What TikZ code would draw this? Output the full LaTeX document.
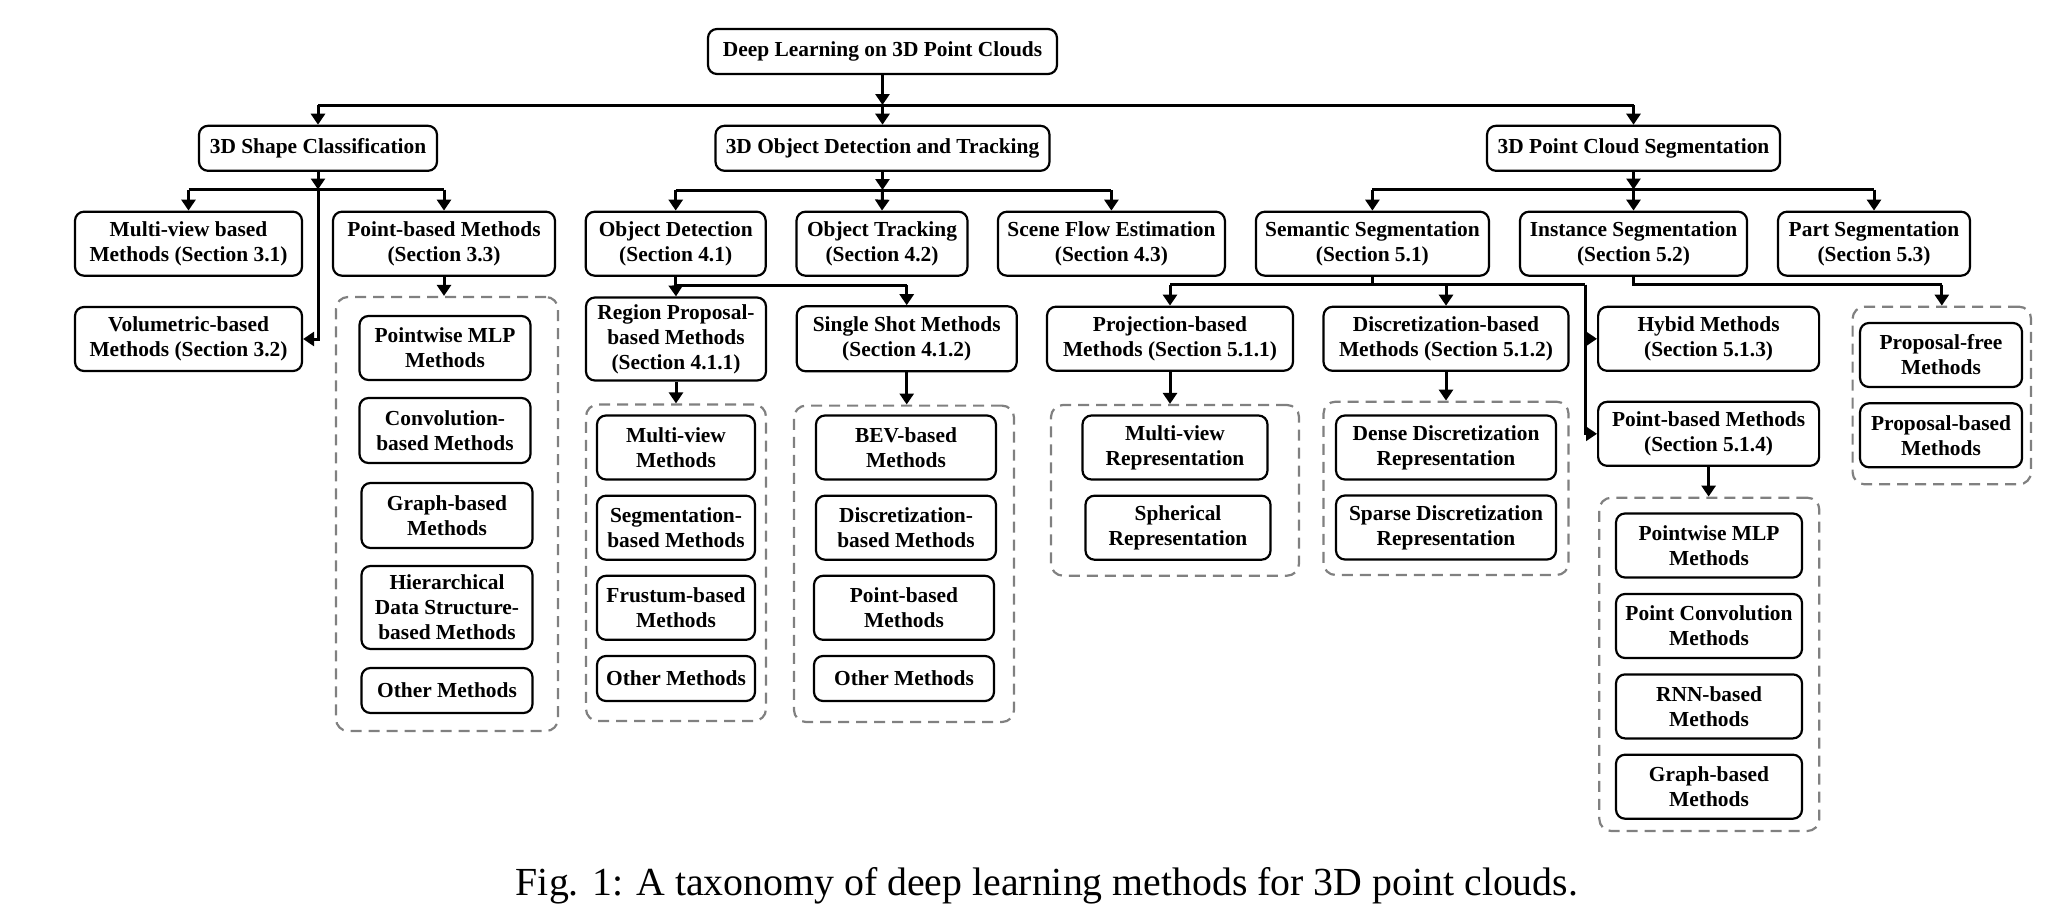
\documentclass[tikz,border=0pt]{standalone}
\usepackage{fontspec}
\setmainfont{Liberation Serif}
\usetikzlibrary{arrows.meta}
\newcommand\tbox[6]{\node[box, minimum width={#4*0.5pt}, minimum height={#5*0.5pt}] (#1) at (#2,#3) {#6};}
\newcommand\tgrp[5]{\node[grp, minimum width={#4*0.5pt}, minimum height={#5*0.5pt}] (#1) at (#2,#3) {};}
\begin{document}
\begin{tikzpicture}[x=0.5pt,y=-0.5pt,
  box/.style={draw=black, line width=1.1pt, rounded corners=4.5pt, align=center, inner sep=0pt, fill=white,
    font=\fontsize{10.7}{12.5}\selectfont\bfseries},
  grp/.style={draw=black!50, line width=1.1pt, dash pattern=on 5.5pt off 3.5pt, rounded corners=6pt, inner sep=0pt},
  conn/.style={line width=1.5pt, -{Triangle[width=7pt,length=5.5pt]}},
  wire/.style={line width=1.5pt},
  capt/.style={font=\fontsize{19.9}{22}\selectfont, inner sep=0pt}]
\useasboundingbox (0,0) rectangle (2065,910);

% groups (drawn first)
\tgrp{g1}{447}{514}{222}{434}
\tgrp{g2}{676}{562.75}{180}{316.5}
\tgrp{g3}{904}{563.8}{220}{316.4}
\tgrp{g4}{1175}{490.35}{248}{170.7}
\tgrp{g5}{1446}{488.35}{245}{173.3}
\tgrp{g6}{1709.3}{664.35}{220}{333.3}
\tgrp{g7}{1941.8}{395.5}{178.4}{177.6}

% level 0 / 1
\tbox{root}{882.5}{51.5}{349}{45}{Deep Learning on 3D Point Clouds}
\tbox{shape}{318}{148.3}{238}{45}{3D Shape Classification}
\tbox{det}{882.5}{148.3}{334}{45}{3D Object Detection and Tracking}
\tbox{seg}{1633.5}{148.3}{293}{45}{3D Point Cloud Segmentation}

% level 2
\tbox{mv}{188.5}{243.7}{227}{64}{Multi-view based\\Methods (Section 3.1)}
\tbox{pb}{444}{243.7}{222}{64}{Point-based Methods\\(Section 3.3)}
\tbox{vol}{188.5}{339}{227}{64}{Volumetric-based\\Methods (Section 3.2)}
\tbox{od}{675.7}{243.7}{180}{64}{Object Detection\\(Section 4.1)}
\tbox{ot}{882}{243.7}{171}{64}{Object Tracking\\(Section 4.2)}
\tbox{sf}{1111.4}{243.7}{227}{64}{Scene Flow Estimation\\(Section 4.3)}
\tbox{ss}{1372.4}{243.7}{233}{64}{Semantic Segmentation\\(Section 5.1)}
\tbox{is}{1633.5}{243.7}{227}{64}{Instance Segmentation\\(Section 5.2)}
\tbox{ps}{1874}{243.7}{192}{64}{Part Segmentation\\(Section 5.3)}

% level 3
\tbox{rp}{676}{339}{180}{83}{Region Proposal-\\based Methods\\(Section 4.1.1)}
\tbox{sh}{906.7}{338.8}{220}{65}{Single Shot Methods\\(Section 4.1.2)}
\tbox{pj}{1170}{338.7}{246}{64}{Projection-based\\Methods (Section 5.1.1)}
\tbox{dc}{1446}{338.8}{245}{64}{Discretization-based\\Methods (Section 5.1.2)}
\tbox{hy}{1708.6}{338.8}{221}{64}{Hybid Methods\\(Section 5.1.3)}
\tbox{pt}{1708.6}{433.8}{221}{64}{Point-based Methods\\(Section 5.1.4)}

% group contents
\tbox{a1}{445}{348}{171}{64}{Pointwise MLP\\Methods}
\tbox{a2}{445}{430.5}{171}{65}{Convolution-\\based Methods}
\tbox{a3}{447}{515.5}{171}{65}{Graph-based\\Methods}
\tbox{a4}{447}{607.5}{171}{83}{Hierarchical\\Data Structure-\\based Methods}
\tbox{a5}{447}{690.5}{171}{45}{Other Methods}

\tbox{b1}{676}{447.5}{158}{64}{Multi-view\\Methods}
\tbox{b2}{676}{527.7}{158}{64}{Segmentation-\\based Methods}
\tbox{b3}{676}{607.8}{158}{64}{Frustum-based\\Methods}
\tbox{b4}{676}{678.5}{158}{45}{Other Methods}

\tbox{c1}{906}{447.5}{180}{64}{BEV-based\\Methods}
\tbox{c2}{906}{527.7}{180}{64}{Discretization-\\based Methods}
\tbox{c3}{904}{607.8}{180}{64}{Point-based\\Methods}
\tbox{c4}{904}{678.5}{180}{45}{Other Methods}

\tbox{d1}{1175}{447.5}{185}{64}{Multi-view\\Representation}
\tbox{d2}{1178}{527.7}{185}{64}{Spherical\\Representation}

\tbox{e1}{1446}{447.5}{220}{64}{Dense Discretization\\Representation}
\tbox{e2}{1446}{527.5}{220}{64}{Sparse Discretization\\Representation}

\tbox{f1}{1709}{545.5}{186}{64}{Pointwise MLP\\Methods}
\tbox{f2}{1709}{626}{186}{64}{Point Convolution\\Methods}
\tbox{f3}{1709}{706.4}{186}{64}{RNN-based\\Methods}
\tbox{f4}{1709}{786.7}{186}{64}{Graph-based\\Methods}

\tbox{h1}{1941}{355}{162}{64}{Proposal-free\\Methods}
\tbox{h2}{1941}{435.3}{162}{64}{Proposal-based\\Methods}

% junction coordinates
\coordinate (top) at (882.5,105);
\coordinate (sbr) at (318,189.5);
\coordinate (dbr) at (882.5,190);
\coordinate (gbr) at (1633.5,189.5);
\coordinate (odj) at (675.7,285);
\coordinate (ssj) at (1372.4,284.5);
\coordinate (ssr) at (1585,284.5);
\coordinate (isj) at (1633.5,284.5);

% root level
\draw[conn] (root.south) -- (top);
\draw[wire] (shape.north |- top) -- (seg.north |- top);
\draw[conn] (shape.north |- top) -- (shape.north);
\draw[conn] (top) -- (det.north);
\draw[conn] (seg.north |- top) -- (seg.north);

% shape classification
\draw[conn] (shape.south) -- (sbr);
\draw[wire] (mv.north |- sbr) -- (pb.north |- sbr);
\draw[conn] (mv.north |- sbr) -- (mv.north);
\draw[conn] (pb.north |- sbr) -- (pb.north);
\draw[conn] (sbr) |- (vol.east);
\draw[conn] (pb.south) -- (pb.south |- g1.north);

% detection
\draw[conn] (det.south) -- (dbr);
\draw[wire] (od.north |- dbr) -- (sf.north |- dbr);
\draw[conn] (od.north |- dbr) -- (od.north);
\draw[conn] (dbr) -- (ot.north);
\draw[conn] (sf.north |- dbr) -- (sf.north);
\draw[wire] (od.south) -- (odj) -- (sh.north |- odj);
\draw[conn] (odj) -- (rp.north);
\draw[conn] (sh.north |- odj) -- (sh.north);
\draw[conn] (rp.south) -- (rp.south |- g2.north);
\draw[conn] (sh.south) -- (sh.south |- g3.north);

% segmentation
\draw[conn] (seg.south) -- (gbr);
\draw[wire] (ss.north |- gbr) -- (ps.north |- gbr);
\draw[conn] (ss.north |- gbr) -- (ss.north);
\draw[conn] (gbr) -- (is.north);
\draw[conn] (ps.north |- gbr) -- (ps.north);

\draw[wire] (ss.south) -- (ssj);
\draw[wire] (pj.north |- ssj) -- (ssr);
\draw[conn] (pj.north |- ssj) -- (pj.north);
\draw[conn] (dc.north |- ssj) -- (dc.north);
\draw[conn] (ssr) |- (hy.west);
\draw[conn] (ssr) |- (pt.west);
\draw[conn] (pj.south) -- (pj.south |- g4.north);
\draw[conn] (dc.south) -- (dc.south |- g5.north);
\draw[conn] (pt.south) -- (pt.south |- g6.north);

\draw[wire] (is.south) -- (isj) -- (g7.north |- isj);
\draw[conn] (g7.north |- isj) -- (g7.north);

% caption
\node[capt, anchor=base] (cap) at (1047,895) {Fig. 1: A taxonomy of deep learning methods for 3D point clouds.};
\end{tikzpicture}
\end{document}
